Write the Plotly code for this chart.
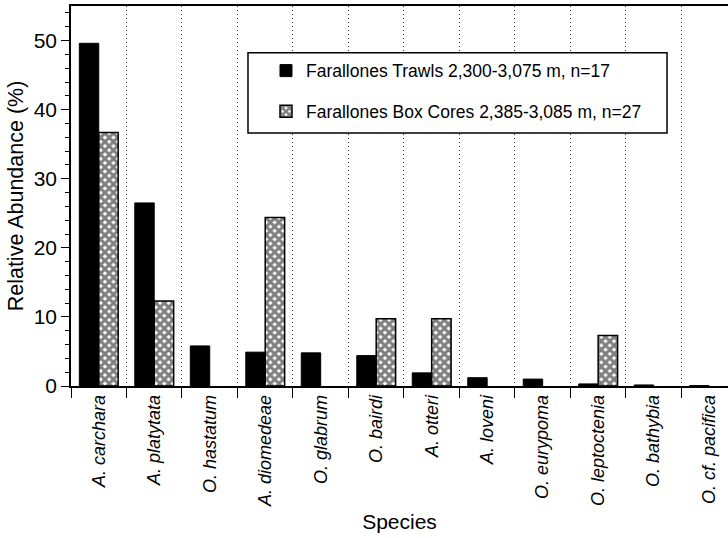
import plotly.graph_objects as go

species = ["A. carchara", "A. platytata", "O. hastatum", "A. diomedeae", "O. glabrum",
           "O. bairdi", "A. otteri", "A. loveni", "O. eurypoma", "O. leptoctenia",
           "O. bathybia", "O. cf. pacifica"]
trawls = [49.6, 26.5, 5.8, 4.9, 4.8, 4.4, 1.9, 1.2, 1.0, 0.3, 0.15, 0.05]
box_cores = [36.7, 12.3, None, 24.4, None, 9.75, 9.75, None, None, 7.3, None, None]

font_family = "Liberation Sans, Arial, Helvetica, sans-serif"

fig = go.Figure()
fig.add_trace(go.Bar(
    x=species, y=trawls, name="Farallones Trawls 2,300-3,075 m, n=17",
    marker=dict(color="black", line=dict(color="black", width=1)),
    legendgroup="a",
))
fig.add_trace(go.Bar(
    x=species, y=box_cores, name="Farallones Box Cores 2,385-3,085 m, n=27",
    marker=dict(color="white", line=dict(color="black", width=1.5),
                pattern=dict(shape="x", fgcolor="black", bgcolor="white", size=6, solidity=0.75)),
    legendgroup="b",
))

fig.update_layout(
    width=728, height=538,
    margin=dict(l=71, r=0, t=6, b=152),
    plot_bgcolor="white", paper_bgcolor="white",
    barmode="group", bargap=0.3, bargroupgap=0,
    font=dict(family=font_family, color="black"),
    legend=dict(x=0.2968, y=0.877, xanchor="left", yanchor="top",
                borderwidth=0, bgcolor="rgba(0,0,0,0)",
                font=dict(size=17.5, family=font_family),
                traceorder="grouped", tracegroupgap=15),
    showlegend=True,
    shapes=[dict(type="rect", xref="paper", yref="paper",
                 x0=0.2694, x1=0.9072, y0=0.666, y1=0.877,
                 line=dict(color="black", width=1.5), fillcolor="white", layer="above")],
)
fig.update_xaxes(
    type="category", range=[-0.5, 11.34],
    tickson="boundaries", ticks="outside", ticklen=10, tickwidth=1.2, tickcolor="black",
    showgrid=True, gridcolor="#333", griddash="1px,3px", gridwidth=1,
    showline=True, linecolor="black", linewidth=1.5, mirror=True,
    tickangle=-90, tickfont=dict(size=18, style="italic", family=font_family),
    title=dict(text="Species", font=dict(size=21, family=font_family), standoff=8),
    zeroline=False,
)
fig.update_yaxes(
    range=[0, 55], dtick=10, tick0=0,
    ticks="outside", ticklen=8, tickwidth=1.2, tickcolor="black",
    minor=dict(dtick=2, ticks="outside", ticklen=4, tickcolor="black", showgrid=False),
    showgrid=False, zeroline=False,
    showline=True, linecolor="black", linewidth=1.5,
    tickfont=dict(size=21, family=font_family),
    title=dict(text="Relative Abundance (%)", font=dict(size=21.5, family=font_family), standoff=4),
)

fig.write_html("out.html")
